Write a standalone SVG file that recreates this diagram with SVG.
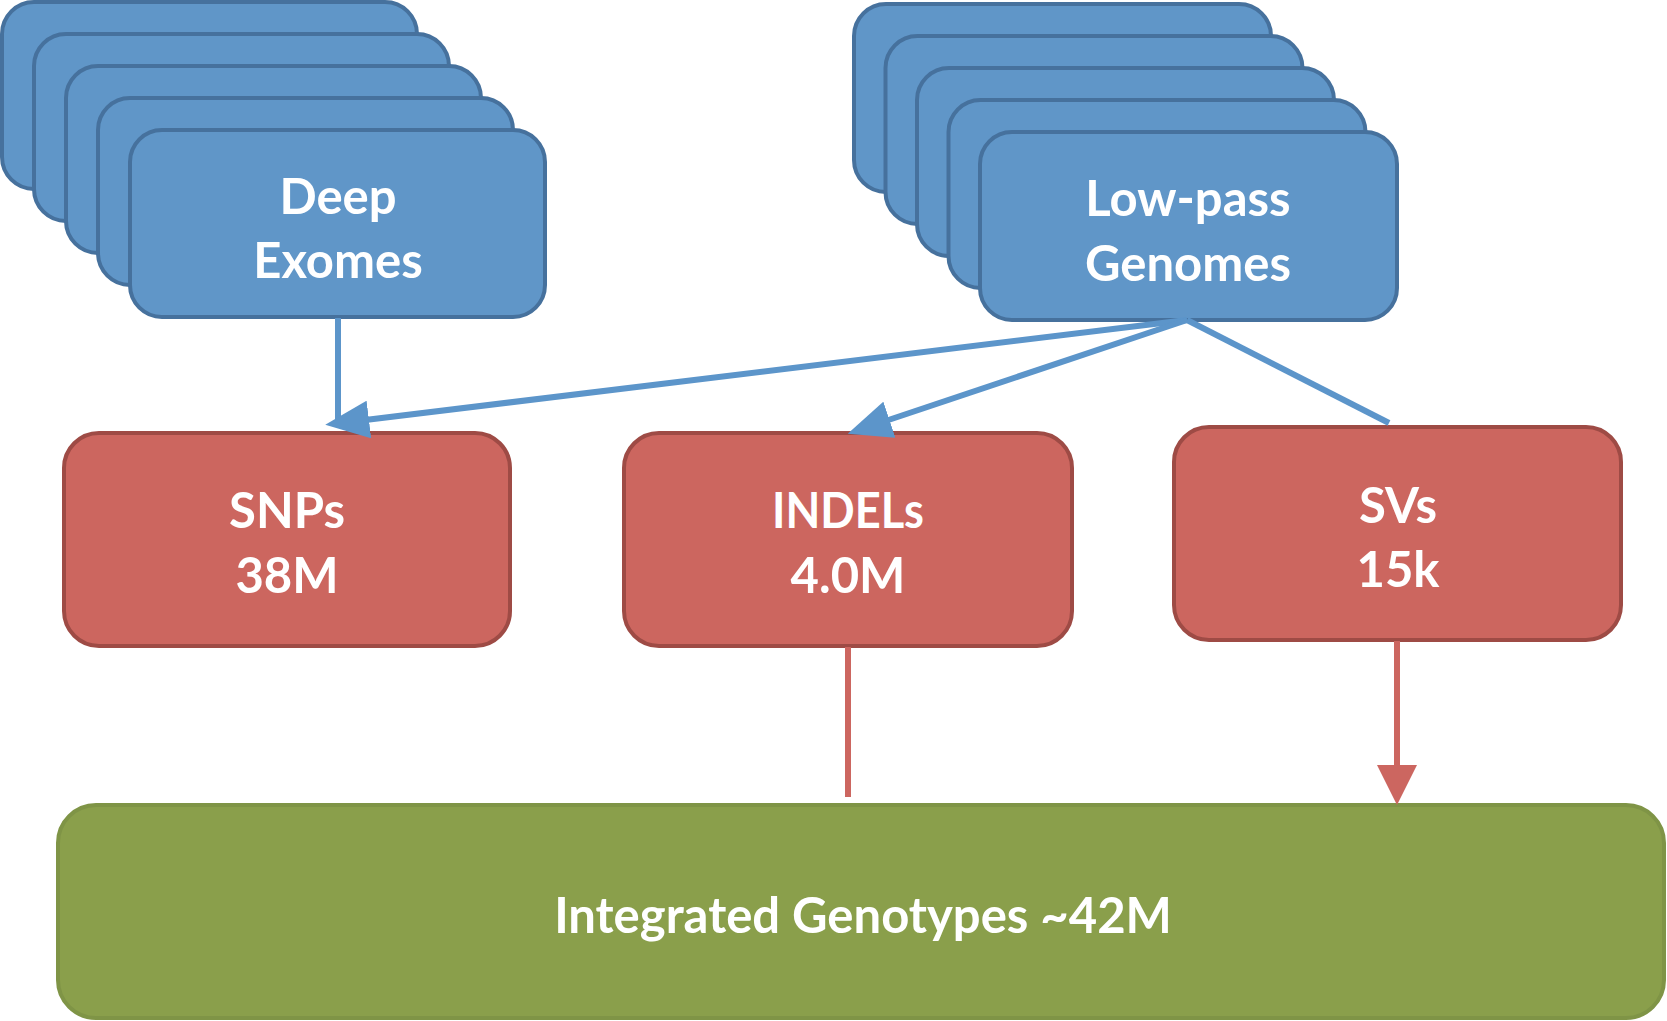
<svg xmlns="http://www.w3.org/2000/svg" width="1667" height="1021" viewBox="0 0 1667 1021">
<style>
.card{fill:#6096c8;stroke:#46719d;stroke-width:4}
.red{fill:#cc665f;stroke:#9e4b45;stroke-width:4}
.green{fill:#8a9f4b;stroke:#7f9446;stroke-width:4}
.t{font-family:Lato,"Open Sans","Liberation Sans",sans-serif;font-weight:700;font-size:49px;fill:#fff;text-anchor:middle}
.cb{stroke:#5c95ca;stroke-width:6;fill:none}
.cr{stroke:#cc6660;stroke-width:6;fill:none}
</style>
<defs>
<marker id="ab" markerUnits="userSpaceOnUse" viewBox="0 0 44 38" refX="12" refY="19" markerWidth="44" markerHeight="38" orient="auto"><path d="M0,0 L44,19 L0,38 z" fill="#5c95ca"/></marker>
<marker id="ar" markerUnits="userSpaceOnUse" viewBox="0 0 40 40" refX="10" refY="20" markerWidth="40" markerHeight="40" orient="auto"><path d="M0,0 L40,20 L0,40 z" fill="#cc6660"/></marker>
</defs>
<g id="deep-exomes">
<rect class="card" x="2" y="2" width="415" height="187" rx="32"/>
<rect class="card" x="34" y="34" width="415" height="187" rx="32"/>
<rect class="card" x="66" y="66" width="415" height="187" rx="32"/>
<rect class="card" x="98" y="98" width="415" height="187" rx="32"/>
<rect class="card" x="130" y="130" width="415" height="187" rx="32"/>
<text class="t" x="338" y="214">Deep</text>
<text class="t" x="338" y="278">Exomes</text>
</g>
<g id="low-pass-genomes">
<rect class="card" x="854" y="4" width="417" height="188" rx="32"/>
<rect class="card" x="885.5" y="36" width="417" height="188" rx="32"/>
<rect class="card" x="917" y="68" width="417" height="188" rx="32"/>
<rect class="card" x="948.5" y="100" width="417" height="188" rx="32"/>
<rect class="card" x="980" y="132" width="417" height="188" rx="32"/>
<text class="t" x="1188" y="216">Low-pass</text>
<text class="t" x="1188" y="281">Genomes</text>
</g>
<g id="snps">
<rect class="red" x="64" y="433" width="446" height="213" rx="35"/>
<text class="t" x="287" y="528">SNPs</text>
<text class="t" x="287" y="593">38M</text>
</g>
<g id="indels">
<rect class="red" x="624" y="433" width="448" height="213" rx="35"/>
<text class="t" x="848" y="528" textLength="152" lengthAdjust="spacingAndGlyphs">INDELs</text>
<text class="t" x="848" y="593">4.0M</text>
</g>
<g id="svs">
<rect class="red" x="1174" y="427" width="447" height="213" rx="35"/>
<text class="t" x="1398" y="523">SVs</text>
<text class="t" x="1398" y="587">15k</text>
</g>
<g id="integrated">
<rect class="green" x="58" y="805" width="1606" height="213" rx="38"/>
<text class="t" x="863" y="933">Integrated Genotypes ~42M</text>
</g>
<g id="connectors">
<line class="cb" x1="338" y1="318" x2="338" y2="421"/>
<line class="cb" x1="1187" y1="320" x2="357" y2="421" marker-end="url(#ab)"/>
<line class="cb" x1="1187" y1="320" x2="878" y2="423.5" marker-end="url(#ab)"/>
<line class="cb" x1="1187" y1="320" x2="1389" y2="423"/>
<line class="cr" x1="848" y1="647" x2="848" y2="797"/>
<line class="cr" x1="1397" y1="641" x2="1397" y2="775" marker-end="url(#ar)"/>
</g>
</svg>
